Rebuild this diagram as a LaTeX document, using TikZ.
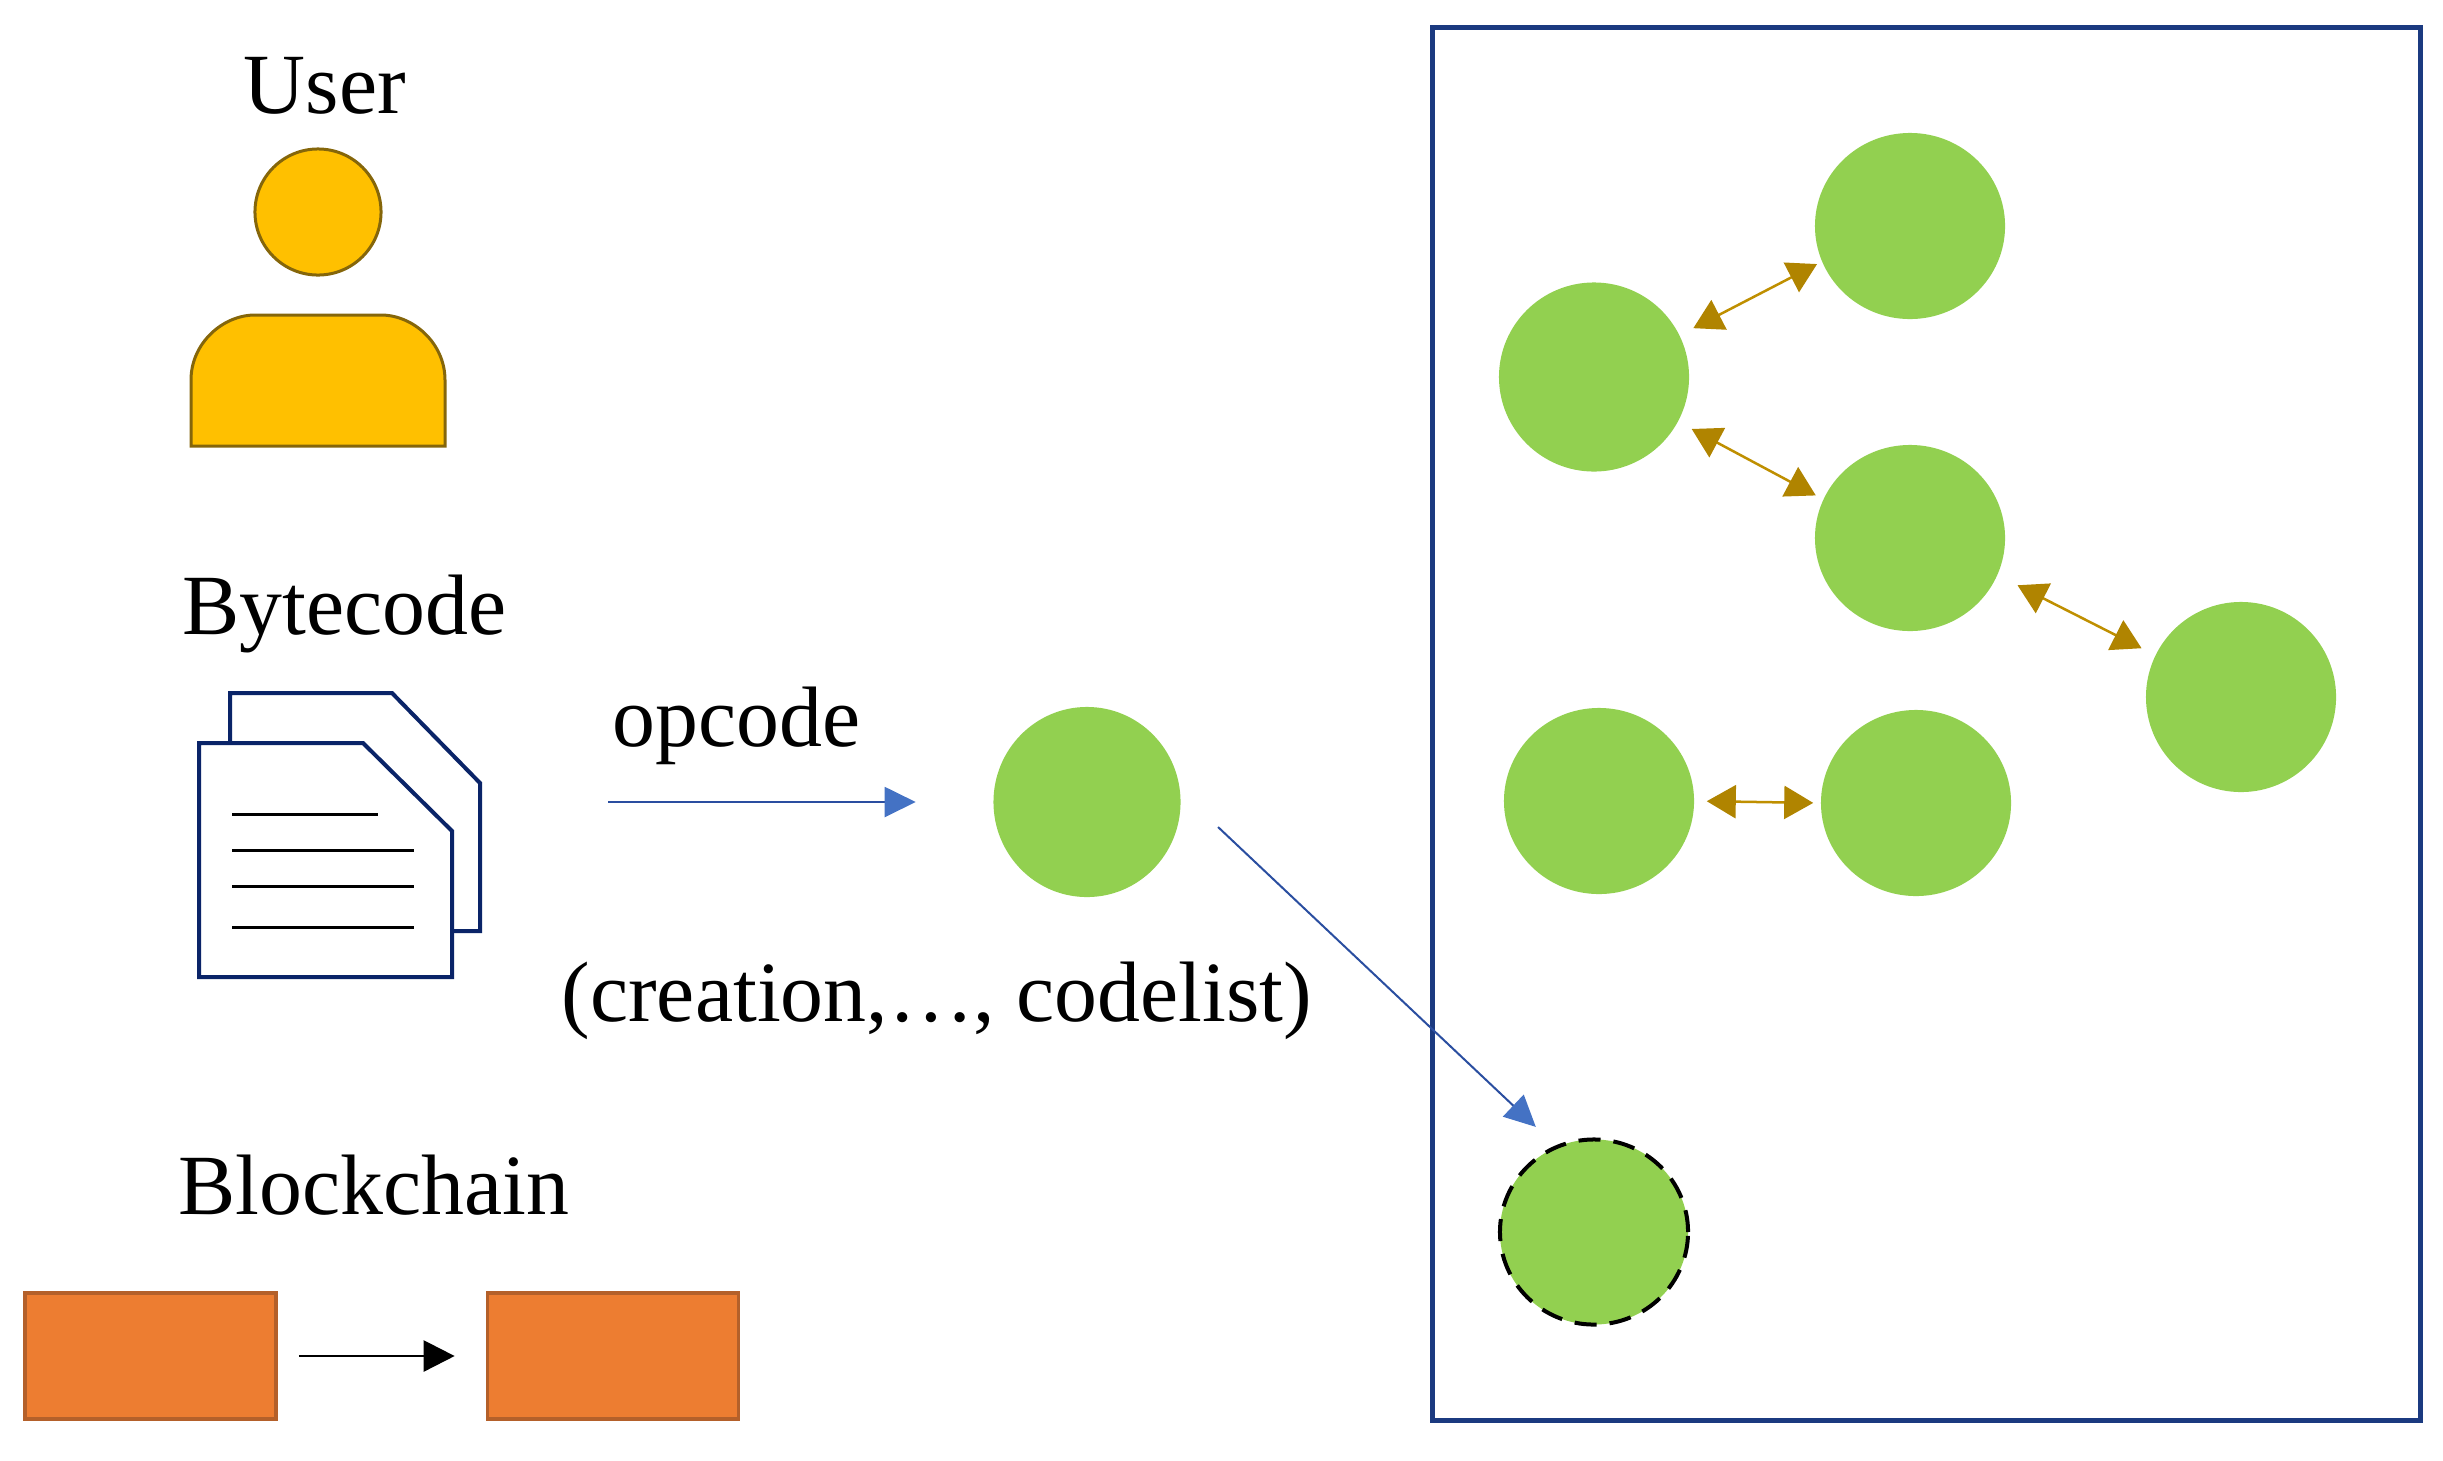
\documentclass[tikz,border=0pt]{standalone}
\usepackage{fontspec}
\setmainfont{Liberation Serif}
\usepackage{tikz}
\usetikzlibrary{arrows.meta,shapes.geometric}
\definecolor{peergreen}{HTML}{92D050}
\definecolor{useryellow}{HTML}{FFC000}
\definecolor{userborder}{HTML}{85660A}
\definecolor{blockorange}{HTML}{ED7D31}
\definecolor{blockborder}{HTML}{B4602A}
\definecolor{framenavy}{HTML}{1B3A80}
\definecolor{docnavy}{HTML}{0A2468}
\definecolor{linkbrown}{HTML}{BF8F00}
\definecolor{sendblue}{HTML}{4472C4}
\definecolor{sendline}{HTML}{2A4EA0}
\tikzset{
  peer/.style={
    shape = ellipse,
    inner sep = 0,
    minimum width = 1.9cm,
    minimum height = 1.86cm,
    fill = peergreen
  },
  newpeer/.style={
    peer,
    draw = black,
    line width = 0.04cm,
    dash pattern = on 0.22cm off 0.13cm
  },
  block/.style={
    shape = rectangle,
    inner sep = 0,
    minimum width = 2.51cm,
    minimum height = 1.26cm,
    draw = blockborder,
    fill = blockorange,
    line width = 0.035cm
  },
  caption/.style={
    anchor = base west,
    inner sep = 0,
    font = \fontsize{24.4pt}{28pt}\selectfont
  },
  doc/.style={
    draw = docnavy,
    fill = white,
    line width = 0.04cm,
    line join = miter
  },
  docline/.style={
    draw = black,
    line width = 0.03cm
  },
  body/.style={
    draw = userborder,
    fill = useryellow,
    line width = 0.03cm
  },
  link/.style={
    draw = linkbrown,
    line width = 0.025cm,
    {Triangle[length=0.29cm,width=0.33cm,color=linkbrown!92!black]}-{Triangle[length=0.29cm,width=0.33cm,color=linkbrown!92!black]}
  },
  send/.style={
    draw = sendline,
    line width = 0.02cm,
    -{Triangle[length=0.31cm,width=0.3cm,color=sendblue]}
  },
  chain/.style={
    draw = black,
    line width = 0.025cm,
    -{Triangle[length=0.31cm,width=0.31cm]}
  }
}

\begin{document}
\begin{tikzpicture}[x=0.01cm,y=-0.01cm]
       \useasboundingbox (0,0) rectangle (2443,1460);

       \node[draw=framenavy, line width=0.045cm, minimum width=9.87cm, minimum height=13.92cm, inner sep=0] (network) at (1926.5,724) {};

       % left column
       \node[caption] (user) at (243,113) {User};
       \node[shape=circle, inner sep=0, minimum size=1.26cm, body] (head) at (318,212) {};
       \draw[body] (191,446) -- (191,380) .. controls (191,343) and (223,315) .. (255,315) -- (381,315) .. controls (413,315) and (445,343) .. (445,380) -- (445,446) -- cycle;

       \node[caption] (bytecode) at (182,634) {Bytecode};
       \draw[doc] (230,743) -- (230,693) -- (392,693) -- (480,783) -- (480,931) -- (452,931);
       \draw[doc] (199,743) -- (363,743) -- (452,831) -- (452,977) -- (199,977) -- cycle;
       \draw[docline] (232,814) -- (378,814);
       \draw[docline] (232,850) -- (414,850);
       \draw[docline] (232,886) -- (414,886);
       \draw[docline] (232,927) -- (414,927);

       \node[caption] (blockchain) at (178,1214) {Blockchain};
       \node[block] (blockone) at (150.5,1356) {};
       \node[block] (blocktwo) at (613,1356) {};
       \draw[chain, shorten <=0.21cm, shorten >=0.31cm] (blockone) -- (blocktwo);

       % the transaction
       \node[caption] (opcode) at (612,746) {opcode};
       \node[caption] (codelist) at (561,1021) {(creation,\ldots, codelist)};
       \node[peer, minimum width=1.87cm, minimum height=1.9cm] (contract) at (1087,802) {};
       \coordinate (opstart) at (608,802);
       \coordinate (deploystart) at (1218,827);
       \draw[send, shorten >=0.77cm] (opstart) -- (contract);

       % the peers
       \node[peer] (peera) at (1910,226) {};
       \node[peer, minimum height=1.89cm] (peerb) at (1594,377) {};
       \node[peer] (peerc) at (1910,538) {};
       \node[peer, minimum height=1.9cm] (peerd) at (2241,697) {};
       \node[peer] (peere) at (1599,801) {};
       \node[peer] (peerf) at (1916,803) {};
       \node[newpeer, minimum width=1.88cm, minimum height=1.85cm] (peernew) at (1594,1232) {};

       \draw[link, shorten <=0.15cm, shorten >=0.05cm] (peerb.26) -- (peera.202);
       \draw[link, shorten <=0.15cm, shorten >=0.08cm] (peerb.332) -- (peerc.156);
       \draw[link, shorten <=0.22cm, shorten >=0.15cm] (peerc.337) -- (peerd.154);
       \draw[link, shorten <=0.12cm, shorten >=0.07cm] (peere.east) -- (peerf.west);
       \draw[send, shorten >=0.27cm] (deploystart) -- (peernew.114);
\end{tikzpicture}
\end{document}
